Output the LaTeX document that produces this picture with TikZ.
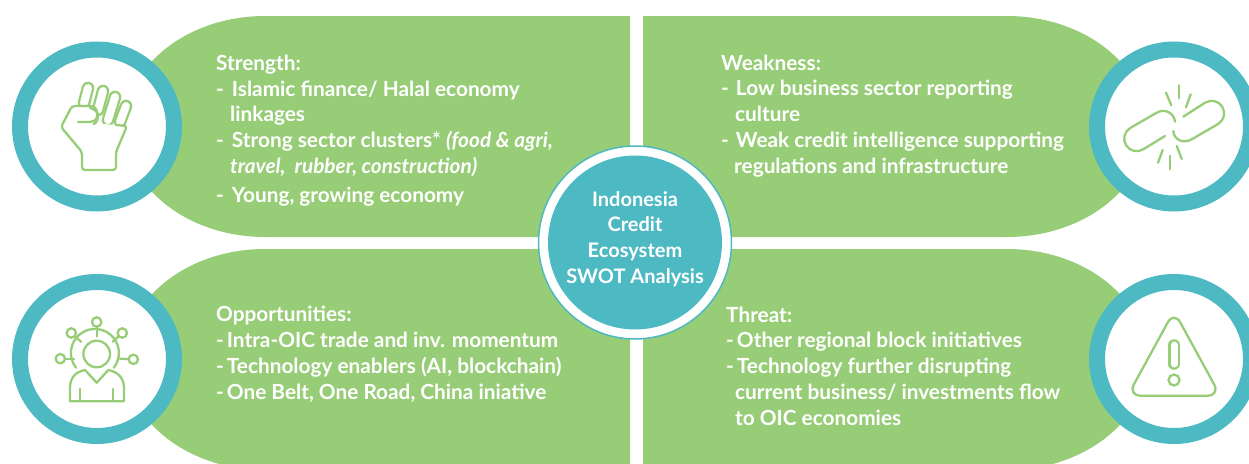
\documentclass[tikz,border=0pt]{standalone}
\usepackage{fontspec}
\setmainfont{Lato}
\definecolor{leaf}{HTML}{98CD78}
\definecolor{teal}{HTML}{4DB9C3}
\tikzset{
  font={\fontsize{20.8}{25.7}\selectfont\bfseries}}
\begin{document}
\begin{tikzpicture}[x=1pt, y=-1pt,
  panel/.style = {fill=leaf},
  ring/.style = {draw=teal, fill=white, circle, line width=16pt, minimum size=154pt, inner sep=0pt},
  label/.style = {text=white, anchor=base west, align=left, inner sep=0pt},
  icon/.style = {draw=leaf, line width=2.3pt, line join=round, line cap=round},
  finger/.style = {icon, double=white, double distance=8pt}]
\useasboundingbox (0,0) rectangle (1249,463);

% four panels
\fill[panel] (630,16) -- (265,16) arc[start angle=90, end angle=270, x radius=140pt, y radius=110.5pt] -- (630,237) -- cycle;
\fill[panel] (630,249) -- (265,249) arc[start angle=90, end angle=270, x radius=140pt, y radius=110.5pt] -- (630,470) -- cycle;
\fill[panel] (643,16) -- (1007,16) arc[start angle=90, end angle=-90, x radius=140pt, y radius=110.5pt] -- (643,237) -- cycle;
\fill[panel] (643,249) -- (1007,249) arc[start angle=90, end angle=-90, x radius=140pt, y radius=110.5pt] -- (643,470) -- cycle;

% icon rings
\node[ring] (strength) at (97,126.5) {};
\node[ring] (opportunity) at (97,359) {};
\node[ring] (weakness) at (1174,126.5) {};
\node[ring] (threat) at (1174,359) {};

% texts
\node[label] (strengthtext) at (216,202) {Strength:\\
-\hspace{8pt}Islamic finance/ Halal economy\\
\hspace{14pt}linkages\\
-\hspace{8pt}Strong sector clusters* \textit{(food \& agri,}\\
\hspace{14pt}\textit{travel,\ \ rubber, construction)}\\[3pt]
-\hspace{8pt}Young, growing economy};
\node[label] (weaknesstext) at (721,173) {Weakness:\\
-\hspace{7pt}Low business sector reporting\\
\hspace{14pt}culture\\
-\hspace{7pt}Weak credit intelligence supporting\\
\hspace{13pt}regulations and infrastructure};
\node[label] (opportunitytext) at (216,399) {Opportunities:\\
-\hspace{3pt}Intra-OIC trade and inv. momentum\\
-\hspace{3pt}Technology enablers (AI, blockchain)\\
-\hspace{3pt}One Belt, One Road, China iniative};
\node[label] (threattext) at (726,425) {Threat:\\
-\hspace{3pt}Other regional block initiatives\\
-\hspace{3pt}Technology further disrupting\\
\hspace{9pt}current business/ investments flow\\
\hspace{9pt}to OIC economies};

% centre
\node[circle, draw=teal, fill=white, line width=1.5pt, minimum size=193pt, inner sep=0pt] (hubring) at (635,242.5) {};
\node[circle, fill=teal, minimum size=174pt, inner sep=0pt] (hub) at (hubring) {};
\node[text=white, align=center, inner sep=0pt, font=\fontsize{20}{25.7}\selectfont\bfseries] (hubtext) at (635,239) {Indonesia\\Credit\\Ecosystem\\SWOT Analysis};

% fist
\draw[finger] (88,88) -- (84,103);
\draw[finger] (103,91) -- (98,110);
\draw[finger] (115,97) -- (108,120);
\draw[finger] (126,106) -- (120,122);
\draw[icon, fill=white, rounded corners=3pt] (78,122) -- (92,122) .. controls (99,118) and (98,106) .. (88,106) -- (72,106) -- (61,127) -- (82,152) -- (82,170) -- (116,170) -- (116,152) -- (127,126) -- (116,125);
\draw[icon] (90,108) .. controls (100,110) and (100,120) .. (94,124);

% person with spokes
\draw[icon] (96.7,354) circle[radius=13.3pt];
\draw[icon] (76,367.7) arc[start angle=218, end angle=-38, radius=24pt];
\foreach \px/\py/\qx/\qy in {96.7/322/96.7/336.5, 71.3/333/81/341.7, 122.3/333/112.7/341.7, 60.3/358.7/74/358.7, 133.3/359.3/120/358.7} {
  \draw[icon] (\qx,\qy) -- (\px,\py);
  \draw[icon, fill=white] (\px,\py) circle[radius=4.7pt];
}
\draw[icon] (70,401.3) -- (124,401.3) -- (124,388) .. controls (124,378) and (118,372) .. (108.3,370) -- (96.7,382.7) -- (85,370) .. controls (75,372) and (70,378) .. (70,388) -- cycle;
\draw[icon] (80,401) -- (80,389);
\draw[icon] (112.7,401) -- (112.7,389);

% broken link
\draw[icon] (1165,136) -- (1143.3,149.3) arc[start angle=-58, end angle=-238, radius=12.5pt] -- (1156.7,112.7) .. controls (1165,108) and (1174,113) .. (1175,121.7);
\draw[icon] (1183.3,116.7) -- (1205,102.7) arc[start angle=122, end angle=-58, radius=12.5pt] -- (1191.7,139.3) .. controls (1183,144) and (1174,140) .. (1173.3,131);
\draw[icon] (1166,92.7) -- (1171.3,105.3);
\draw[icon] (1179.3,85.3) -- (1179.3,98.3);
\draw[icon] (1190.7,94.3) -- (1186,107.3);
\draw[icon] (1162.7,150) -- (1158,162.7);
\draw[icon] (1170.3,156) -- (1170.3,169.3);
\draw[icon] (1176.7,146) -- (1181.7,159);

% warning sign
\draw[icon, rounded corners=13pt] (1174,311) -- (1220.3,395.7) -- (1127.7,395.7) -- cycle;
\draw[finger, double distance=7pt] (1174,345) -- (1174,364);
\draw[icon] (1174,380) circle[radius=5.5pt];
\end{tikzpicture}
\end{document}
